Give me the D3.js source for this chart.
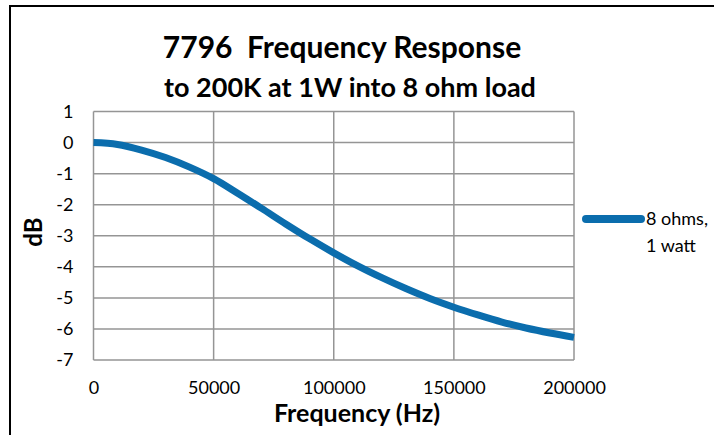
<!DOCTYPE html>
<html>
<head>
<meta charset="utf-8">
<script src="https://cdn.jsdelivr.net/npm/d3@7"></script>
<style>
  body { margin: 0; background: #fff; }
  text { font-family: Lato, "Open Sans", sans-serif; fill: #000; }
</style>
</head>
<body>
<script>
const freqs = [0, 10000, 20000, 30000, 40000, 50000, 60000, 70000, 80000, 90000, 100000,
               110000, 120000, 130000, 140000, 150000, 160000, 170000, 180000, 190000, 200000];
const dbValues = [0, -0.06, -0.24, -0.48, -0.79, -1.16, -1.63, -2.12, -2.62, -3.1, -3.55,
                  -3.97, -4.35, -4.7, -5.02, -5.3, -5.55, -5.78, -5.97, -6.13, -6.27];
const xTicks = [0, 50000, 100000, 150000, 200000];
const yTicks = [1, 0, -1, -2, -3, -4, -5, -6, -7];
const seriesName = ["8 ohms,", "1 watt"];

const width = 714;
const height = 435;
const plot = { left: 93.5, right: 574, top: 111.5, bottom: 360 };

const data = freqs.map((f, i) => ({ f: f, db: dbValues[i] }));

const svg = d3.select("body").append("svg")
    .attr("width", width)
    .attr("height", height);

// chart frame (only top and left edges are visible)
svg.append("path")
    .attr("d", `M10,${height} V6 H${width}`)
    .attr("fill", "none")
    .attr("stroke", "#000")
    .attr("stroke-width", 2);

const x = d3.scaleLinear().domain([0, 200000]).range([plot.left, plot.right]);
const y = d3.scaleLinear().domain([-7, 1]).range([plot.bottom, plot.top]);

// plain hyphen, like the original
const fmt = d => String(d);

// grid
svg.append("g")
    .selectAll("line")
    .data(yTicks)
    .join("line")
    .attr("x1", plot.left).attr("x2", plot.right)
    .attr("y1", d => y(d)).attr("y2", d => y(d))
    .attr("stroke", "#959595")
    .attr("stroke-width", 1.5);

svg.append("g")
    .selectAll("line")
    .data(xTicks)
    .join("line")
    .attr("x1", d => x(d)).attr("x2", d => x(d))
    .attr("y1", plot.top).attr("y2", plot.bottom)
    .attr("stroke", "#959595")
    .attr("stroke-width", 1.5);

// axes labels
const yAxis = svg.append("g")
    .attr("transform", `translate(${plot.left - 20},0)`)
    .call(d3.axisLeft(y).tickValues(yTicks).tickSize(0).tickPadding(0).tickFormat(fmt));
yAxis.select(".domain").remove();
yAxis.selectAll("text")
    .attr("font-size", 18)
    .attr("font-family", "Lato")
    .attr("fill", "#000");

const xAxis = svg.append("g")
    .attr("transform", `translate(0,${plot.bottom + 21})`)
    .call(d3.axisBottom(x).tickValues(xTicks).tickSize(0).tickPadding(0).tickFormat(fmt));
xAxis.select(".domain").remove();
xAxis.selectAll("text")
    .attr("font-size", 18)
    .attr("font-family", "Lato")
    .attr("fill", "#000");

// series
const line = d3.line()
    .x(d => x(d.f))
    .y(d => y(d.db))
    .curve(d3.curveMonotoneX);

svg.append("path")
    .datum(data)
    .attr("d", line)
    .attr("fill", "none")
    .attr("stroke", "#0b6dad")
    .attr("stroke-width", 7);

// titles
svg.append("text")
    .attr("x", 342).attr("y", 58)
    .attr("text-anchor", "middle")
    .attr("font-size", 30)
    .attr("font-weight", "bold")
    .text("7796\u00a0\u00a0Frequency Response");

svg.append("text")
    .attr("x", 350).attr("y", 97)
    .attr("text-anchor", "middle")
    .attr("font-size", 27)
    .attr("font-weight", "bold")
    .text("to 200K at 1W into 8 ohm load");

svg.append("text")
    .attr("x", 357).attr("y", 422)
    .attr("text-anchor", "middle")
    .attr("font-size", 25)
    .attr("font-weight", "bold")
    .text("Frequency (Hz)");

svg.append("text")
    .attr("transform", "translate(42,232) rotate(-90)")
    .attr("text-anchor", "middle")
    .attr("font-size", 24)
    .attr("font-weight", "bold")
    .text("dB");

// legend
const legend = svg.append("g").attr("transform", "translate(586,219)");
legend.append("line")
    .attr("x1", 0).attr("x2", 55)
    .attr("stroke", "#0b6dad")
    .attr("stroke-width", 8)
    .attr("stroke-linecap", "round");
legend.selectAll("text")
    .data(seriesName)
    .join("text")
    .attr("x", 60)
    .attr("y", (d, i) => 6 + i * 26.5)
    .attr("font-size", 18)
    .text(d => d);
</script>
</body>
</html>
